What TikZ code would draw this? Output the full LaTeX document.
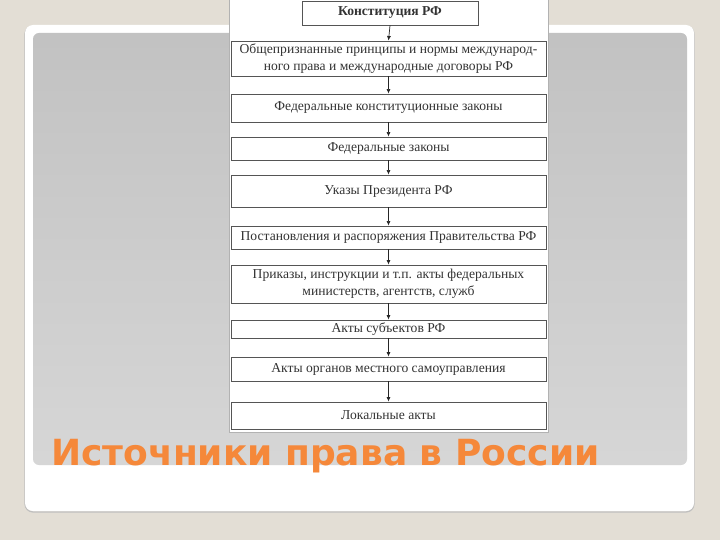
\documentclass[tikz,border=0pt]{standalone}
\usepackage{fontspec}
\setmainfont{Liberation Serif}
\newfontfamily\titlefont{DejaVu Sans}
\usetikzlibrary{arrows.meta}
\definecolor{bgbeige}{HTML}{E3DED5}
\definecolor{boxline}{HTML}{555555}
\definecolor{titleorange}{HTML}{F5883A}
\tikzset{
  lbox/.style={draw=boxline, line width=0.9pt, fill=white, inner sep=0pt, align=center,
    font=\fontsize{13.6}{17}\selectfont, text=black!80},
  larrow/.style={draw=black!85, line width=0.7pt, -{Latex[length=4.5pt,width=4pt]}},
}
\begin{document}
\begin{tikzpicture}[x=1pt,y=-1pt]
\useasboundingbox (0,0) rectangle (720,540);
\fill[bgbeige] (0,0) rectangle (720,540);
% frame
\draw[black!25, line width=1.2pt, rounded corners=8pt] (25,26) rectangle (694,512);
\fill[white, rounded corners=8pt] (25,25) rectangle (694,511);
\shade[top color=black!24, bottom color=black!16, rounded corners=6pt] (33,33) rectangle (687,465);
% scanned panel
\fill[white] (230,0) rectangle (548,432);
\draw[black!30, line width=0.5pt] (229,0) -- (229,432) -- (548.5,432) -- (548.5,0);
% boxes
\node[lbox, minimum width=176pt, minimum height=24pt, font=\fontsize{13.6}{17}\selectfont\bfseries] (b1) at (390,13) {Конституция РФ};
\node[lbox, minimum width=315pt, minimum height=35pt] (b2) at (388.5,58.5) {Общепризнанные принципы и нормы международ-\\ного права и международные договоры РФ};
\node[lbox, minimum width=315pt, minimum height=28pt] (b3) at (388.5,108) {Федеральные конституционные законы};
\node[lbox, minimum width=315pt, minimum height=23pt] (b4) at (388.5,148.5) {Федеральные законы};
\node[lbox, minimum width=315pt, minimum height=32pt] (b5) at (388.5,191) {Указы Президента РФ};
\node[lbox, minimum width=315pt, minimum height=23pt] (b6) at (388.5,237.5) {Постановления и распоряжения Правительства РФ};
\node[lbox, minimum width=315pt, minimum height=38pt] (b7) at (388.5,284) {Приказы, инструкции и т.п. акты федеральных\\министерств, агентств, служб};
\node[lbox, minimum width=315pt, minimum height=18pt] (b8) at (388.5,329) {Акты субъектов РФ};
\node[lbox, minimum width=315pt, minimum height=24pt] (b9) at (388.5,369) {Акты органов местного самоуправления};
\node[lbox, minimum width=315pt, minimum height=27pt] (b10) at (388.5,415.5) {Локальные акты};
% arrows
\foreach \a/\b in {b1/b2,b2/b3,b3/b4,b4/b5,b5/b6,b6/b7,b7/b8,b8/b9,b9/b10}{
  \draw[larrow] (\a.south) -- (\b.north);
}
% title
\node[anchor=base west, inner sep=0pt, text=titleorange, font=\titlefont\bfseries\fontsize{36}{40}\selectfont] (title) at (51,465) {Источники права в России};
\end{tikzpicture}
\end{document}
